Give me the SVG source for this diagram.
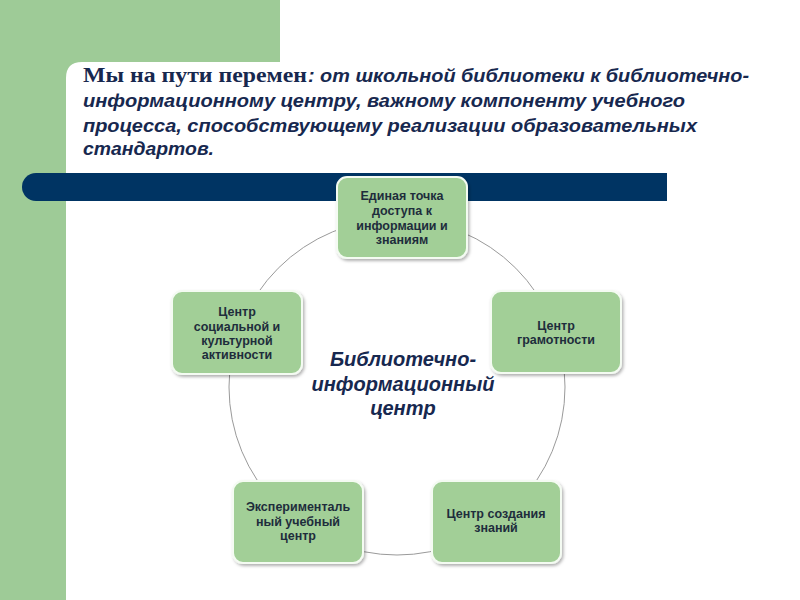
<svg xmlns="http://www.w3.org/2000/svg" width="800" height="600" viewBox="0 0 800 600">
<defs>
<filter id="sh" x="-10%" y="-10%" width="130%" height="130%">
<feDropShadow dx="1.5" dy="2" stdDeviation="1.5" flood-color="#000" flood-opacity="0.3"/>
</filter>
<style>
.node rect{fill:#a2cf97;stroke:#f4fbf2;stroke-width:2;filter:url(#sh)}
.node text{font-family:"Liberation Sans",Arial,sans-serif;font-weight:bold;font-size:12.5px;fill:#1e2d3c;text-anchor:middle}
.title{font-family:"Liberation Sans",Arial,sans-serif;font-style:italic;font-weight:bold;font-size:19px;fill:#17284f}
.titleS{font-family:"Liberation Serif","Times New Roman",serif;font-weight:bold;font-size:20px;fill:#17284f}
.center{font-family:"Liberation Sans",Arial,sans-serif;font-style:italic;font-weight:bold;font-size:20px;fill:#17284f;text-anchor:middle}
</style>
</defs>
<rect width="800" height="600" fill="#ffffff"/>
<path d="M0 0H280V62H82Q66 62 66 78V600H0Z" fill="#9ecb97"/>
<text class="titleS" x="83" y="82" textLength="224" lengthAdjust="spacingAndGlyphs">Мы на пути перемен</text>
<text class="title" x="308" y="82" textLength="441" lengthAdjust="spacingAndGlyphs">: от школьной библиотеки к  библиотечно-</text>
<text class="title" x="83" y="107" textLength="602" lengthAdjust="spacingAndGlyphs">информационному центру, важному компоненту учебного</text>
<text class="title" x="83" y="132" textLength="614" lengthAdjust="spacingAndGlyphs">процесса, способствующему реализации образовательных</text>
<text class="title" x="83" y="155" textLength="131" lengthAdjust="spacingAndGlyphs">стандартов.</text>
<path d="M36 173H667V201H36A14 14 0 0 1 36 173Z" fill="#003463"/>
<g id="connectors">
<circle cx="397" cy="387" r="168" fill="none" stroke="#9a9a9a" stroke-width="1"/>
</g>
<text class="center" x="403" y="366">Библиотечно-</text>
<text class="center" x="403" y="391">информационный</text>
<text class="center" x="403" y="415">центр</text>
<g id="n1" class="node">
<rect x="337" y="177" width="130" height="81" rx="10"/>
<text x="402" y="200">Единая точка</text>
<text x="402" y="215">доступа к</text>
<text x="402" y="230">информации и</text>
<text x="402" y="244">знаниям</text>
</g>
<g id="n2" class="node">
<rect x="491" y="291" width="130" height="82" rx="10"/>
<text x="556" y="330">Центр</text>
<text x="556" y="344">грамотности</text>
</g>
<g id="n3" class="node">
<rect x="172" y="291" width="130" height="83" rx="10"/>
<text x="237" y="316">Центр</text>
<text x="237" y="331">социальной и</text>
<text x="237" y="345">культурной</text>
<text x="237" y="359">активности</text>
</g>
<g id="n4" class="node">
<rect x="233" y="481" width="130" height="82" rx="10"/>
<text x="298" y="511">Эксперименталь</text>
<text x="298" y="526">ный учебный</text>
<text x="298" y="540">центр</text>
</g>
<g id="n5" class="node">
<rect x="432" y="481" width="129" height="82" rx="10"/>
<text x="496" y="518">Центр создания</text>
<text x="496" y="532">знаний</text>
</g>
</svg>
